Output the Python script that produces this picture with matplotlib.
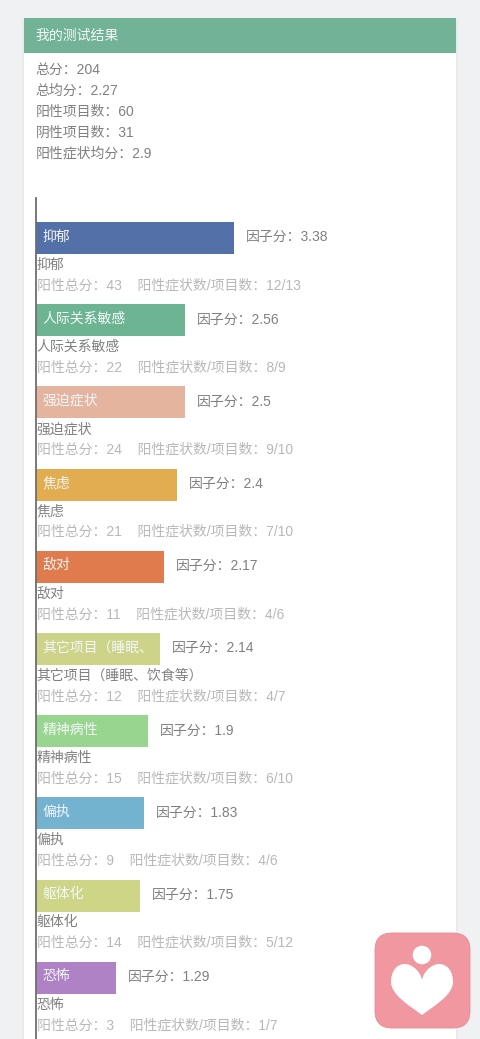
import matplotlib
matplotlib.use('Agg')
import matplotlib.pyplot as plt
import matplotlib.patches as patches
from matplotlib.path import Path

plt.rcParams['font.family'] = ['Liberation Sans', 'Noto Sans CJK SC']

W, H = 480, 1039

title = '我的测试结果'
summary_names = ['总分', '总均分', '阳性项目数', '阴性项目数', '阳性症状均分']
summary_values = ['204', '2.27', '60', '31', '2.9']

names = ['抑郁', '人际关系敏感', '强迫症状', '焦虑', '敌对', '其它项目（睡眠、饮食等）',
         '精神病性', '偏执', '躯体化', '恐怖']
bar_names = ['抑郁', '人际关系敏感', '强迫症状', '焦虑', '敌对', '其它项目（睡眠、',
             '精神病性', '偏执', '躯体化', '恐怖']
factors = ['3.38', '2.56', '2.5', '2.4', '2.17', '2.14', '1.9', '1.83', '1.75', '1.29']
# bar lengths, they run a bit off the printed factor
lengths = [3.38, 2.55, 2.55, 2.40, 2.19, 2.12, 1.91, 1.85, 1.78, 1.37]
pos_total = [43, 22, 24, 21, 11, 12, 15, 9, 14, 3]
pos_items = ['12/13', '8/9', '9/10', '7/10', '4/6', '4/7', '6/10', '4/6', '5/12', '1/7']
colors = ['#5371A8', '#6DB592', '#E5B49F', '#E2AD50', '#DF7B4C',
          '#CDD388', '#98D58F', '#73B3CF', '#CFD586', '#AE82C4']

fig = plt.figure(figsize=(W / 100, H / 100), dpi=100, facecolor='#F0F1F3')

# page layer in pixel coordinates
bg = fig.add_axes([0, 0, 1, 1], zorder=1)
bg.set_xlim(0, W)
bg.set_ylim(H, 0)
bg.axis('off')
bg.add_patch(patches.Rectangle((22, 20), 436, H, fc='#E9EAEC', ec='none'))
bg.add_patch(patches.Rectangle((24, 18), 432, H, fc='white', ec='none'))
bg.add_patch(patches.Rectangle((24, 18), 432, 35, fc='#72B398', ec='none'))
bg.text(35.5, 35.5, title, color='#F2F8F5', fontsize=10, ha='left', va='center')

for i, (n, v) in enumerate(zip(summary_names, summary_values)):
    bg.text(35.5, 69.8 + i * 20.85, n + '：' + v, color='#808080', fontsize=10,
            ha='left', va='center')

# chart layer: x in factor units, y in category index
left, right = 36, 456
top, bottom = 198, H
ax = fig.add_axes([left / W, 0, (right - left) / W, (bottom - top) / H], zorder=2)
ax.patch.set_alpha(0)
ax.set_xlim(0, (right - left) / 58.6)
ax.set_ylim((H - 238) / 82.2, (198 - 238) / 82.2)
ys = list(range(len(names)))
ax.barh(ys, lengths, height=32 / 82.2, color=colors)

for spine in ['top', 'right', 'bottom']:
    ax.spines[spine].set_visible(False)
ax.spines['left'].set_color('#6E6E6E')
ax.spines['left'].set_linewidth(1.3)
ax.set_xticks([])
ax.set_yticks([])

for y, L in zip(ys, lengths):
    ax.text(0.11, y - 0.02, bar_names[y], color='#F4F7FA', fontsize=10,
            ha='left', va='center')
    ax.text(L + 0.2, y - 0.01, '因子分：' + factors[y], color='#808080', fontsize=10,
            ha='left', va='center')
    ax.text(0.01, y + 0.325, names[y], color='#808080', fontsize=10,
            ha='left', va='center')
    ax.text(0.01, y + 0.575, '阳性总分：%d    阳性症状数/项目数：%s' % (pos_total[y], pos_items[y]),
            color='#B8B8B8', fontsize=10, ha='left', va='center')

# app badge in the lower right corner
top_ax = fig.add_axes([0, 0, 1, 1], zorder=3)
top_ax.set_xlim(0, W)
top_ax.set_ylim(H, 0)
top_ax.axis('off')
top_ax.patch.set_alpha(0)
top_ax.add_patch(patches.FancyBboxPatch((375 + 17, 933 + 17), 95 - 34, 95 - 34,
                                        boxstyle='round,pad=17,rounding_size=17',
                                        fc='#F0979F', ec='#E58C95', lw=0.6))
top_ax.add_patch(patches.Circle((422, 955), 9.3, fc='white', ec='none'))
heart = Path(
    [(422, 980), (420, 970), (411, 964), (405, 964),
     (396, 964), (391, 972), (391, 982),
     (391, 995), (410, 1006), (422, 1015),
     (434, 1006), (453, 995), (453, 982),
     (453, 972), (448, 964), (439, 964),
     (433, 964), (424, 970), (422, 980)],
    [Path.MOVETO] + [Path.CURVE4] * 18)
top_ax.add_patch(patches.PathPatch(heart, fc='white', ec='none'))

fig.savefig('out.png', dpi=100, facecolor=fig.get_facecolor())
